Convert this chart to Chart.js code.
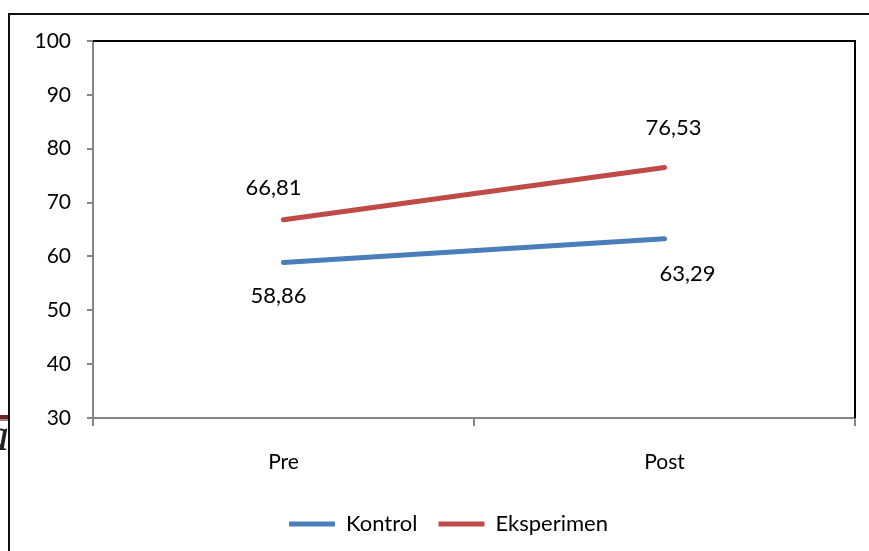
<!DOCTYPE html>
<html>
<head>
<meta charset="utf-8">
<script src="https://cdn.jsdelivr.net/npm/chart.js@4.4.1/dist/chart.umd.min.js"></script>
<style>
  html, body { margin: 0; padding: 0; background: #fff; }
  #wrap { position: relative; width: 869px; height: 551px; overflow: hidden; background: #fff; }
  #chart { position: absolute; left: 0; top: 0; }
  .frame-top { position: absolute; left: 9px; top: 13px; width: 860px; height: 2px; background: #111; }
  .frame-left { position: absolute; left: 8px; top: 13px; width: 2px; height: 538px; background: #111; }
  .rule { position: absolute; left: 0; top: 415px; width: 8px; height: 4px; background: #6e2527; }
  .rule2 { position: absolute; left: 0; top: 419px; width: 8px; height: 2px; background: #b07c7c; }
  .stray { position: absolute; left: -14px; top: 410px; font: italic 46px "Liberation Serif", serif; line-height: 50px; color: #222; }
</style>
</head>
<body>
<div id="wrap">
  <canvas id="chart" width="869" height="551"></canvas>
  <div class="stray">a</div>
  <div class="frame-top"></div>
  <div class="frame-left"></div>
  <div class="rule"></div>
  <div class="rule2"></div>
</div>
<script>
// Test scores, pre and post, for the two groups
const categories = ['Pre', 'Post'];
const kontrol = [58.86, 63.29];
const eksperimen = [66.81, 76.53];
const yTicks = [30, 40, 50, 60, 70, 80, 90, 100];

const FONT = 'Lato, "Open Sans", sans-serif';
const BLUE = '#4a7ebb';
const RED = '#be4b48';

// Value labels written with a decimal comma, placed beside each point
const valueLabels = {
  id: 'valueLabels',
  afterDatasetsDraw(chart, args, opts) {
    const ctx = chart.ctx;
    ctx.save();
    ctx.font = '22px ' + FONT;
    ctx.fillStyle = '#000';
    ctx.textAlign = 'center';
    ctx.textBaseline = 'middle';
    chart.data.datasets.forEach((ds, di) => {
      const meta = chart.getDatasetMeta(di);
      meta.data.forEach((pt, i) => {
        const off = opts.offsets[di][i];
        const txt = ds.data[i].toFixed(2).replace('.', ',');
        ctx.fillText(txt, pt.x + off[0], pt.y + off[1]);
      });
    });
    ctx.restore();
  }
};

// Black border on the top and right of the plot area
const plotFrame = {
  id: 'plotFrame',
  afterDraw(chart) {
    const { ctx, chartArea: a } = chart;
    ctx.save();
    ctx.strokeStyle = '#000';
    ctx.lineWidth = 2;
    ctx.beginPath();
    ctx.moveTo(a.left, a.top);
    ctx.lineTo(a.right, a.top);
    ctx.lineTo(a.right, a.bottom);
    ctx.stroke();
    ctx.restore();
  }
};

// Nudge the legend to the right so it sits centred under the frame
const legendShift = {
  id: 'legendShift',
  afterLayout(chart, args, opts) {
    if (chart.legend) {
      chart.legend.left += opts.dx;
      chart.legend.right += opts.dx;
    }
  }
};

new Chart(document.getElementById('chart'), {
  type: 'line',
  data: {
    labels: categories,
    datasets: [
      { label: 'Kontrol', data: kontrol, borderColor: BLUE, backgroundColor: BLUE,
        borderWidth: 5, pointRadius: 0, borderCapStyle: 'round', tension: 0 },
      { label: 'Eksperimen', data: eksperimen, borderColor: RED, backgroundColor: RED,
        borderWidth: 5, pointRadius: 0, borderCapStyle: 'round', tension: 0 }
    ]
  },
  options: {
    responsive: false,
    animation: false,
    layout: { padding: { left: 0, top: 41, right: 14, bottom: 6 } },
    plugins: {
      tooltip: { enabled: false },
      legendShift: { dx: 21 },
      valueLabels: {
        offsets: [
          [[-5, 33], [23, 35]],
          [[-10, -32], [9, -39]]
        ]
      },
      legend: {
        position: 'bottom',
        labels: {
          font: { family: FONT, size: 22 },
          color: '#000',
          boxWidth: 46,
          boxHeight: 5,
          padding: 21,
          generateLabels(chart) {
            return chart.data.datasets.map((ds, i) => ({
              text: ds.label,
              fillStyle: ds.borderColor,
              strokeStyle: ds.borderColor,
              lineWidth: 0,
              datasetIndex: i
            }));
          }
        }
      }
    },
    scales: {
      x: {
        offset: true,
        grid: { offset: true, drawOnChartArea: false, color: '#868686', tickLength: 8, lineWidth: 2 },
        border: { color: '#868686', width: 2 },
        ticks: { font: { family: FONT, size: 21 }, color: '#000', padding: 24 },
        afterFit(scale) { scale.height = 74; }
      },
      y: {
        min: 30,
        max: 100,
        afterBuildTicks(scale) { scale.ticks = yTicks.map(v => ({ value: v })); },
        grid: { drawOnChartArea: false, color: '#868686', tickLength: 6, lineWidth: 2 },
        border: { color: '#868686', width: 2 },
        ticks: { font: { family: FONT, size: 21 }, color: '#000', padding: 16 },
        afterFit(scale) { scale.width = 93; }
      }
    }
  },
  plugins: [valueLabels, plotFrame, legendShift]
});
</script>
</body>
</html>
